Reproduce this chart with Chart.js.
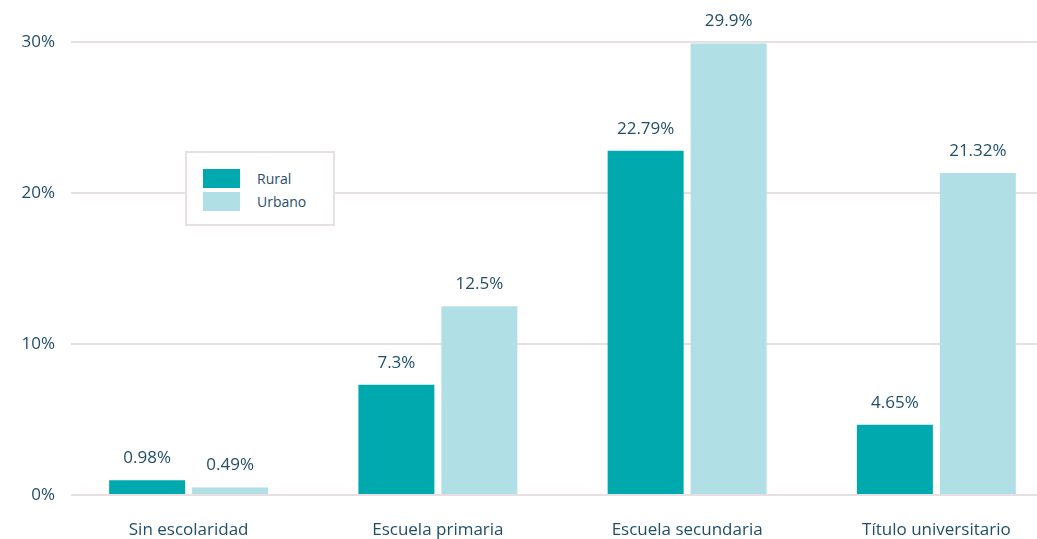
<!DOCTYPE html>
<html>
<head>
<meta charset="utf-8">
<script src="https://cdn.jsdelivr.net/npm/chart.js@4"></script>
<style>
  html, body { margin: 0; padding: 0; background: #fff; overflow: hidden; }
  #wrap { position: relative; width: 1037px; height: 539px; overflow: hidden; }
  #legend {
    position: absolute; left: 185px; top: 151px; width: 146px; height: 71px;
    border: 2px solid #e6dfe3; background: #fff; box-sizing: content-box;
    font-family: "Open Sans", "Noto Sans", sans-serif; font-size: 14px; color: #1f4e6b;
  }
  #legend .item { position: absolute; left: 16px; height: 19px; display: flex; align-items: center; }
  #legend .sw { width: 37px; height: 19px; margin-right: 17px; }
</style>
</head>
<body>
<div id="wrap">
  <canvas id="chart" width="1061" height="539"></canvas>
  <div id="legend"></div>
</div>
<script>
// categorías y valores (%)
const categories = ['Sin escolaridad', 'Escuela primaria', 'Escuela secundaria', 'Título universitario'];
const rural = [0.98, 7.3, 22.79, 4.65];
const urbano = [0.49, 12.5, 29.9, 21.32];
const ruralLabels = ['0.98%', '7.3%', '22.79%', '4.65%'];
const urbanoLabels = ['0.49%', '12.5%', '29.9%', '21.32%'];
const yTicks = [0, 10, 20, 30];

const textColor = '#1f4e6b';
const fontFamily = '"Open Sans", "Noto Sans", sans-serif';

// la rejilla empieza un poco a la derecha del área
const gridGap = {
    id: 'gridGap',
    beforeDatasetsDraw(chart) {
        const ctx = chart.ctx;
        const a = chart.chartArea;
        ctx.save();
        ctx.fillStyle = '#fff';
        ctx.fillRect(a.left - 2, a.top - 3, 9, a.bottom - a.top + 6);
        ctx.restore();
    }
};

// etiquetas encima de las barras
const barLabels = {
    id: 'barLabels',
    afterDatasetsDraw(chart) {
        const ctx = chart.ctx;
        ctx.save();
        ctx.fillStyle = textColor;
        ctx.font = '17px ' + fontFamily;
        ctx.textAlign = 'center';
        ctx.textBaseline = 'middle';
        chart.data.datasets.forEach((ds, i) => {
            const meta = chart.getDatasetMeta(i);
            meta.data.forEach((bar, j) => {
                ctx.fillText(ds.labelsText[j], bar.x, bar.y - 22);
            });
        });
        ctx.restore();
    }
};

const chart = new Chart(document.getElementById('chart'), {
    type: 'bar',
    data: {
        labels: categories,
        datasets: [
            { label: 'Rural', data: rural, labelsText: ruralLabels, backgroundColor: '#00a9ad' },
            { label: 'Urbano', data: urbano, labelsText: urbanoLabels, backgroundColor: '#b0dfe5' }
        ]
    },
    options: {
        responsive: false,
        animation: false,
        categoryPercentage: 0.6658,
        barPercentage: 0.9157,
        layout: { padding: { top: 42, right: 0, left: 0, bottom: 0 } },
        plugins: {
            legend: { display: false },
            tooltip: { enabled: false }
        },
        scales: {
            x: {
                grid: { display: false },
                border: { display: false },
                afterFit: axis => { axis.height = 44; },
                ticks: { color: textColor, font: { family: fontFamily, size: 17 }, padding: 17, maxRotation: 0 }
            },
            y: {
                min: 0,
                max: 30,
                afterBuildTicks: axis => { axis.ticks = yTicks.map(v => ({ value: v })); },
                afterFit: axis => { axis.width = 64; },
                grid: { color: '#e6dfe3', lineWidth: 2, drawTicks: false },
                border: { display: false },
                ticks: {
                    color: textColor,
                    font: { family: fontFamily, size: 17 },
                    padding: 9,
                    callback: v => v + '%'
                }
            }
        }
    },
    plugins: [gridGap, barLabels]
});

// leyenda
const legend = document.getElementById('legend');
chart.data.datasets.forEach((ds, i) => {
    const item = document.createElement('div');
    item.className = 'item';
    item.style.top = (16 + i * 23) + 'px';
    item.innerHTML = '<span class="sw" style="background:' + ds.backgroundColor + '"></span><span>' + ds.label + '</span>';
    legend.appendChild(item);
});
</script>
</body>
</html>
